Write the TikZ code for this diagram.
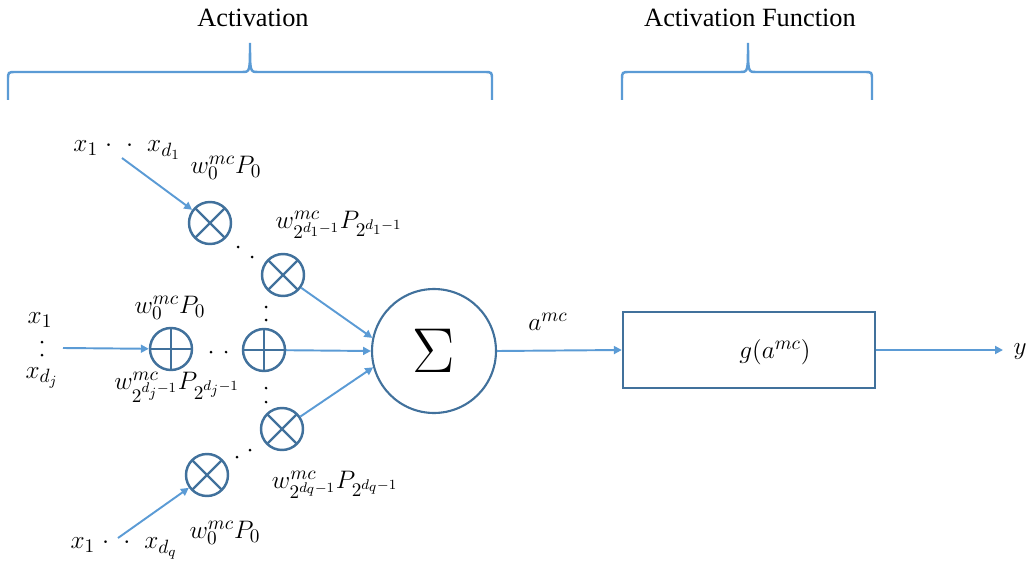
\documentclass[tikz,border=0pt]{standalone}
\usepackage{graphicx}
\usepackage{fontspec}
\setmainfont{Liberation Serif}
\DeclareMathSizes{15}{15}{11}{8.5}
\definecolor{wire}{HTML}{5B9BD5}
\definecolor{ring}{HTML}{41719C}
\usetikzlibrary{arrows.meta, positioning, calc}
\tikzset{
  mulnode/.style={circle, draw=ring, line width=1.4pt, minimum size=8.4mm, inner sep=0pt,
              path picture={\draw[ring, line width=1.4pt]
                (path picture bounding box.north west) -- (path picture bounding box.south east)
                (path picture bounding box.south west) -- (path picture bounding box.north east);}},
  addnode/.style={circle, draw=ring, line width=1.4pt, minimum size=8.4mm, inner sep=0pt,
              path picture={\draw[ring, line width=1.4pt]
                (path picture bounding box.north) -- (path picture bounding box.south)
                (path picture bounding box.west) -- (path picture bounding box.east);}},
  sumnode/.style={circle, draw=ring, line width=1.2pt, minimum size=24.8mm, inner sep=0pt,
              font=\Huge},
  actbox/.style={draw=ring, line width=1.4pt, minimum width=50.4mm, minimum height=15.2mm},
  flow/.style={-{Triangle[length=4.5pt,width=4.5pt]}, line width=1.1pt, color=wire},
  bracket/.style={draw=wire, line width=1.4pt},
  lbl/.style={font=\fontsize{15}{18}\selectfont, inner sep=0pt},
  head/.style={font=\fontsize{15}{18}\selectfont, inner sep=0pt},
  dotmark/.style={circle, fill=black, minimum size=0.6mm, inner sep=0pt},
}
\begin{document}
\begin{tikzpicture}[x=0.02cm,y=-0.02cm]
\useasboundingbox (0,0) rectangle (1034,571);
% headings and braces
\node[head] (acthead) at (253,18) {Activation};
\node[head] (funchead) at (750,18) {Activation Function};
\draw[bracket] (8,100) -- (8,80) .. controls (8,72) .. (16,72) -- (242,72)
  .. controls (250,72) .. (250,43) .. controls (250,72) .. (258,72) -- (484,72)
  .. controls (492,72) .. (492,80) -- (492,100);
\draw[bracket] (622,100) -- (622,80) .. controls (622,72) .. (630,72) -- (740,72)
  .. controls (748,72) .. (748,43) .. controls (748,72) .. (756,72) -- (864,72)
  .. controls (872,72) .. (872,80) -- (872,100);
% product and sum nodes
\node[mulnode] (u1) at (210,223) {};
\node[mulnode] (u2) at (283,275) {};
\node[addnode] (m1) at (171,349) {};
\node[addnode] (m2) at (264,350) {};
\node[mulnode] (l2) at (282,429) {};
\node[mulnode] (l1) at (207,475) {};
\node[sumnode] (sigma) at (434,351) {\scalebox{1.45}{$\Sigma$}};
\node[actbox] (act) at (749,350) {};
\node[lbl] (gact) at (775,352) {$g(a^{mc})$};
% labels
\node[lbl] (xu) at (127,150) {$x_1\;{\cdot}\;\;{\cdot}\;\;x_{d_1}$};
\node[lbl] (wu0) at (226,168) {$w_0^{mc}P_0$};
\node[lbl] (wu1) at (339,225) {$w_{2^{d_1-1}}^{mc}P_{2^{d_1-1}}$};
\node[lbl] (xm1) at (40,320) {$x_1$};
\node[lbl] (xmd) at (42,378) {$x_{d_j}$};
\node[lbl] (wm0) at (170,308) {$w_0^{mc}P_0$};
\node[lbl] (wm1) at (177,387) {$w_{2^{d_j-1}}^{mc}P_{2^{d_j-1}}$};
\node[lbl] (xl) at (124,548) {$x_1\;{\cdot}\;\;{\cdot}\;\;x_{d_q}$};
\node[lbl] (wl0) at (225,533) {$w_0^{mc}P_0$};
\node[lbl] (wl1) at (335,485) {$w_{2^{d_q-1}}^{mc}P_{2^{d_q-1}}$};
\node[lbl] (amc) at (548,322) {$a^{mc}$};
\node[lbl] (yout) at (1020,352) {$y$};
\foreach \p [count=\i] in {(238,247),(252,257),(42,342),(42,355),(211,352),(226,352),
    (266,307),(266,320),(266,388),(266,402),(237,457),(250,450)}
  \node[dotmark] (dot\i) at \p {};
% free ends
\coordinate (xuend) at (122,158);
\coordinate (xmend) at (63,348);
\coordinate (xlend) at (118,538);
\coordinate (yend) at (1003,350);
% connectors
\draw[flow] (xuend) -- (u1);
\draw[flow] (xmend) -- (m1);
\draw[flow] (xlend) -- (l1);
\draw[flow] (u2) -- (sigma.168);
\draw[flow] (m2) -- (sigma.180);
\draw[flow] (l2) -- (sigma.195);
\draw[flow] (sigma.east) -- (act.west);
\draw[flow] (act.east) -- (yend);
\end{tikzpicture}
\end{document}
